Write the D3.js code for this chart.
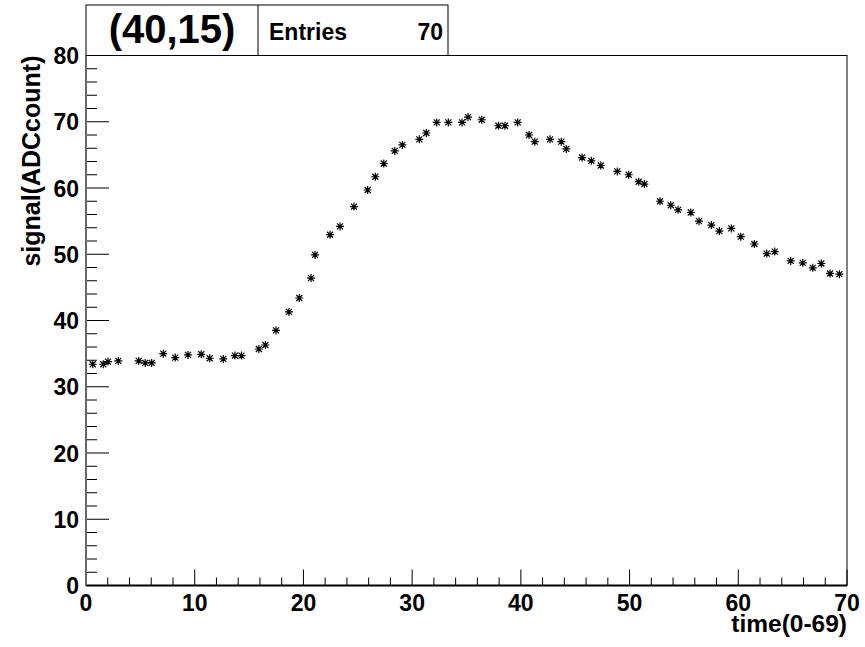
<!DOCTYPE html>
<html>
<head>
<meta charset="utf-8">
<script src="https://cdn.jsdelivr.net/npm/d3@7"></script>
<style>
  body { margin: 0; background: #fff; }
  text { font-family: "Liberation Sans", Arial, sans-serif; font-weight: bold; fill: #000; }
</style>
</head>
<body>
<div id="chart"></div>
<script>
// time of each sample and the measured signal (ADC counts)
const timeValues = [
  0.62, 1.59, 2.02, 2.97, 4.85, 5.45, 6.04, 7.11, 8.21, 9.38,
  10.6, 11.38, 12.63, 13.7, 14.3, 15.9, 16.5, 17.48, 18.67, 19.62,
  20.7, 21.07, 22.45, 23.37, 24.65, 25.91, 26.61, 27.39, 28.4, 29.1,
  30.66, 31.3, 32.26, 33.33, 34.59, 35.14, 36.4, 37.93, 38.54, 39.71,
  40.75, 41.28, 42.68, 43.72, 44.18, 45.63, 46.48, 47.35, 48.87, 49.92,
  50.84, 51.36, 52.8, 53.79, 54.46, 55.63, 56.39, 57.52, 58.26, 59.36,
  60.23, 61.48, 62.62, 63.35, 64.82, 65.93, 66.85, 67.64, 68.44, 69.3
];
const signalValues = [
  33.4, 33.4, 33.8, 33.9, 33.9, 33.6, 33.6, 35.0, 34.4, 34.8,
  34.9, 34.3, 34.2, 34.7, 34.7, 35.7, 36.3, 38.5, 41.3, 43.4,
  46.4, 49.9, 52.95, 54.2, 57.2, 59.7, 61.7, 63.7, 65.6, 66.5,
  67.35, 68.3, 69.9, 69.9, 69.9, 70.7, 70.3, 69.4, 69.4, 69.9,
  68.0, 67.0, 67.35, 67.0, 65.9, 64.6, 64.1, 63.4, 62.5, 62.0,
  60.95, 60.6, 58.0, 57.4, 56.7, 56.3, 55.0, 54.4, 53.5, 53.9,
  52.65, 51.55, 50.1, 50.4, 49.0, 48.7, 47.95, 48.6, 47.1, 47.0
];
const xTickValues = [0, 10, 20, 30, 40, 50, 60, 70];
const yTickValues = [0, 10, 20, 30, 40, 50, 60, 70, 80];
const histTitle = "(40,15)";
const entriesLabel = "Entries";
const entriesCount = 70;
const xAxisTitle = "time(0-69)";
const yAxisTitle = "signal(ADCcount)";

const width = 865, height = 647;
const frameLeft = 86, frameRight = 847, frameTop = 55.5, frameBottom = 585.5;

const svg = d3.select("#chart").append("svg")
  .attr("width", width)
  .attr("height", height);

const x = d3.scaleLinear().domain([0, 70]).range([frameLeft, frameRight]);
const y = d3.scaleLinear().domain([0, 80]).range([frameBottom, frameTop]);

// frame
svg.append("rect")
  .attr("x", frameLeft).attr("y", frameTop)
  .attr("width", frameRight - frameLeft).attr("height", frameBottom - frameTop)
  .attr("fill", "none").attr("stroke", "#000").attr("stroke-width", 1);

// x axis: major ticks every 10, minor every 2
const xMinor = d3.range(0, 71, 2);
svg.append("g").selectAll("line").data(xMinor).join("line")
  .attr("x1", d => x(d)).attr("x2", d => x(d))
  .attr("y1", frameBottom)
  .attr("y2", d => d % 10 === 0 ? frameBottom - 16 : frameBottom - 8)
  .attr("stroke", "#000").attr("stroke-width", 1);
svg.append("line")
  .attr("x1", frameLeft).attr("x2", frameRight).attr("y1", frameBottom).attr("y2", frameBottom)
  .attr("stroke", "#000").attr("stroke-width", 2);

svg.append("g").selectAll("text").data(xTickValues).join("text")
  .attr("x", d => x(d)).attr("y", 611)
  .attr("text-anchor", "middle")
  .style("font-size", "23px")
  .text(d => d);

// y axis
const yMinor = d3.range(0, 81, 2);
svg.append("g").selectAll("line").data(yMinor).join("line")
  .attr("x1", frameLeft)
  .attr("x2", d => d % 10 === 0 ? frameLeft + 23 : frameLeft + 11)
  .attr("y1", d => y(d)).attr("y2", d => y(d))
  .attr("stroke", "#000").attr("stroke-width", 1);
svg.append("line")
  .attr("x1", frameLeft).attr("x2", frameLeft).attr("y1", frameTop).attr("y2", frameBottom)
  .attr("stroke", "#666").attr("stroke-width", 2);

svg.append("g").selectAll("text").data(yTickValues).join("text")
  .attr("x", frameLeft - 7).attr("y", d => y(d) + 8.5)
  .attr("text-anchor", "end")
  .style("font-size", "23px")
  .text(d => d);

// axis titles
svg.append("text")
  .attr("x", frameRight).attr("y", 632)
  .attr("text-anchor", "end")
  .style("font-size", "24.5px")
  .text(xAxisTitle);

svg.append("text")
  .attr("transform", `translate(40,${frameTop}) rotate(-90)`)
  .attr("text-anchor", "end")
  .style("font-size", "25px")
  .text(yAxisTitle);

// data markers (asterisk)
const star = "M-4,0H4M0,-4V4M-3,-3L3,3M-3,3L3,-3";
svg.append("g").selectAll("path").data(timeValues.map((t, i) => [t, signalValues[i]])).join("path")
  .attr("transform", d => `translate(${x(d[0])},${y(d[1])})`)
  .attr("d", star)
  .attr("fill", "none").attr("stroke", "#000").attr("stroke-width", 1.2);

// title + stats box
const boxTop = 5, boxMid = 258, boxRight = 448;
svg.append("rect")
  .attr("x", frameLeft).attr("y", boxTop)
  .attr("width", boxRight - frameLeft).attr("height", frameTop - boxTop)
  .attr("fill", "#fff").attr("stroke", "#000").attr("stroke-width", 1);
svg.append("line")
  .attr("x1", boxMid).attr("x2", boxMid).attr("y1", boxTop).attr("y2", frameTop)
  .attr("stroke", "#000").attr("stroke-width", 1);

svg.append("text")
  .attr("x", (frameLeft + boxMid) / 2).attr("y", 43)
  .attr("text-anchor", "middle")
  .style("font-size", "40px")
  .text(histTitle);
svg.append("text")
  .attr("x", 269).attr("y", 40)
  .style("font-size", "23px")
  .text(entriesLabel);
svg.append("text")
  .attr("x", 443).attr("y", 40)
  .attr("text-anchor", "end")
  .style("font-size", "23px")
  .text(entriesCount);
</script>
</body>
</html>
